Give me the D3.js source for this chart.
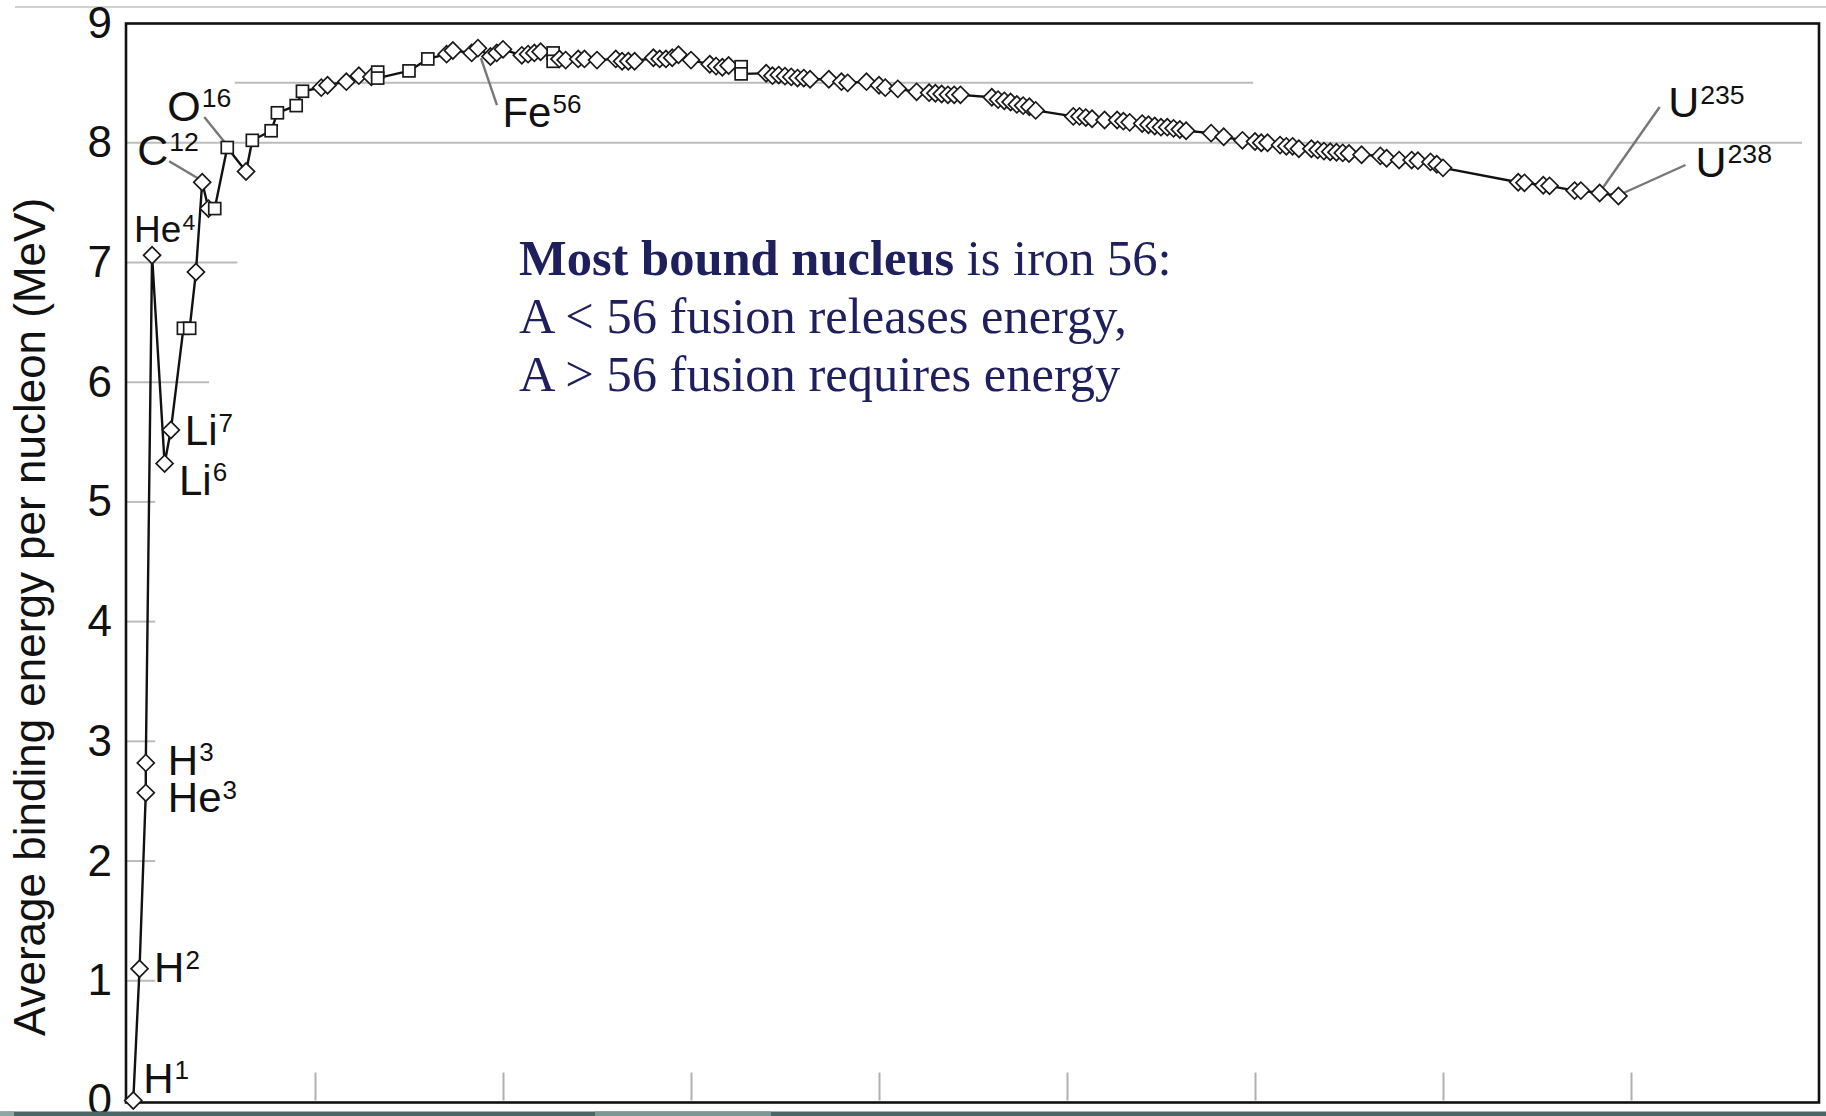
<!DOCTYPE html>
<html><head><meta charset="utf-8">
<script src="https://cdn.jsdelivr.net/npm/d3@7"></script>
<style>html,body{margin:0;padding:0;background:#fff;} svg{display:block}</style>
</head><body><svg id="chart" width="1826" height="1116"></svg>
<script>
// ---------------- DATA ----------------
const massNumber = [1,2,3,3,4,6,7,9,10,11,12,13,14,16,19,20,23,24,27,28,31,32,35,37,39,40,40,45,48,51,52,55,56,58,59,60,63,64,65,66,68,68,69,70,72,73,75,78,79,80,81,84,85,86,87,88,90,93,94,95,96,98,98,102,103,104,105,106,107,108,109,112,114,115,118,120,121,123,126,128,129,130,131,132,133,138,139,140,141,142,143,144,145,151,152,153,154,156,158,159,160,162,163,164,165,166,167,168,169,173,175,178,180,181,182,184,185,186,187,189,190,191,192,193,194,195,197,200,201,203,205,206,208,209,210,222,223,226,227,231,232,235,238];
const bindingEnergy = [0,1.10,2.57,2.82,7.06,5.32,5.60,6.45,6.45,6.92,7.67,7.45,7.45,7.96,7.76,8.02,8.10,8.25,8.31,8.43,8.46,8.48,8.51,8.56,8.55,8.59,8.54,8.60,8.70,8.74,8.77,8.75,8.79,8.72,8.75,8.78,8.73,8.74,8.75,8.76,8.75,8.68,8.70,8.69,8.70,8.70,8.69,8.70,8.68,8.68,8.68,8.71,8.70,8.70,8.71,8.735,8.69,8.655,8.64,8.63,8.645,8.635,8.575,8.58,8.56,8.565,8.556,8.55,8.54,8.54,8.53,8.53,8.51,8.50,8.51,8.48,8.46,8.45,8.425,8.418,8.413,8.407,8.40,8.40,8.40,8.38,8.36,8.35,8.34,8.32,8.31,8.30,8.27,8.22,8.22,8.21,8.20,8.19,8.19,8.18,8.17,8.16,8.15,8.14,8.13,8.13,8.12,8.11,8.10,8.08,8.05,8.02,8.01,8.00,8.00,7.98,7.97,7.97,7.95,7.95,7.94,7.93,7.925,7.92,7.915,7.91,7.90,7.89,7.87,7.855,7.855,7.85,7.84,7.82,7.79,7.67,7.665,7.645,7.64,7.60,7.60,7.58,7.555];
// indices of points drawn as squares (others are diamonds)
const squareIdx = [7,8,12,13,15,16,17,18,19,25,26,27,28,40,41,61,62];

const yTicks = [0,1,2,3,4,5,6,7,8,9];
const xTicks = [30,60,90,120,150,180,210,240];
const yTitle = "Average binding energy per nucleon (MeV)";

// labelled nuclides: index into the series, symbol, superscript
const labelPoint = [0,1,2,3,4,5,6,10,13,32,141,142];
const labelSym   = ["H","H","He","H","He","Li","Li","C","O","Fe","U","U"];
const labelSup   = ["1","2","3","3","4","6","7","12","16","56","235","238"];

// partial horizontal grid lines [energy, fromA, toA]
const gridY = [[1,0,4.5],[2,0,4.5],[3,0,4.5],[4,0,4.5],[5,0,4.5],[6,0,13.1],[7,0,17.6],[8,0,267.3],[8.5,17.2,179.7]];

const noteLines = [
  [["Most bound nucleus", true],[" is iron 56:", false]],
  [["A < 56 fusion releases energy,", false]],
  [["A > 56 fusion requires energy", false]]
];

// ---------------- LAYOUT ----------------
const svg = d3.select("#chart");
const W = 1826, H = 1116;
const x = d3.scaleLinear().domain([0,270]).range([127,1819]);
const y = d3.scaleLinear().domain([0,9]).range([1100.5,23]);
const sans = "'Liberation Sans', Arial, sans-serif";

svg.append("rect").attr("width",W).attr("height",H).attr("fill","#fff");
// top page line
svg.append("line").attr("x1",15).attr("x2",W).attr("y1",7).attr("y2",7).attr("stroke","#d2d2d2").attr("stroke-width",2);

// grid lines
svg.append("g").selectAll("line").data(gridY).join("line")
  .attr("x1",d=>x(d[1])).attr("x2",d=>x(d[2]))
  .attr("y1",d=>y(d[0])).attr("y2",d=>y(d[0]))
  .attr("stroke","#bcbcbc").attr("stroke-width",2);

// x ticks (inside, no labels)
const xAxis = svg.append("g").attr("transform",`translate(0,${y(0)})`)
  .call(d3.axisBottom(x).tickValues(xTicks).tickSize(-28).tickFormat(""));
xAxis.select(".domain").remove();
xAxis.selectAll("line").attr("stroke","#b0b0b0").attr("stroke-width",2);

// y axis labels
const yAxis = svg.append("g").attr("transform",`translate(${x(0)},0)`)
  .call(d3.axisLeft(y).tickValues(yTicks).tickSize(0).tickPadding(15).tickFormat(d3.format("d")));
yAxis.select(".domain").remove();
yAxis.selectAll("text").attr("font-family",sans).attr("font-size",44).attr("fill","#111");

// frame
svg.append("rect").attr("x",x(0)-1).attr("y",y(9)+0.5).attr("width",x(270)-x(0)+1).attr("height",y(0)-y(9)+1.5)
  .attr("fill","none").attr("stroke","#111").attr("stroke-width",2.6);

// y title
svg.append("text").attr("transform",`translate(45,617) rotate(-90)`)
  .attr("text-anchor","middle").attr("font-family",sans).attr("font-size",44).attr("fill","#111")
  .text(yTitle);

const pts = massNumber.map((a,i)=>({a, e: bindingEnergy[i], sq: squareIdx.includes(i)}));

// leader lines for some labels: [label index, dx1, dy1, dx2, dy2] relative to the point
const leaders = [[7,-1,-2,-33,-21],[8,-2,-4.5,-23,-30.5],[9,3,10,19,57],[10,3,-5,60,-86],[11,5,-3,67,-31]];
svg.append("g").selectAll("line").data(leaders).join("line")
  .attr("x1",d=>x(pts[labelPoint[d[0]]].a)+d[1]).attr("y1",d=>y(pts[labelPoint[d[0]]].e)+d[2])
  .attr("x2",d=>x(pts[labelPoint[d[0]]].a)+d[3]).attr("y2",d=>y(pts[labelPoint[d[0]]].e)+d[4])
  .attr("stroke","#777").attr("stroke-width",2.4);

// series line
svg.append("path").datum(pts)
  .attr("d", d3.line().x(d=>x(d.a)).y(d=>y(d.e)))
  .attr("fill","none").attr("stroke","#111").attr("stroke-width",2.4).attr("stroke-linejoin","round");

// markers
const s = 12;
svg.append("g").selectAll("rect").data(pts).join("rect")
  .attr("x",-s/2).attr("y",-s/2).attr("width",s).attr("height",s)
  .attr("transform",d=>`translate(${x(d.a)},${y(d.e)})` + (d.sq ? "" : " rotate(45)"))
  .attr("fill","#fff").attr("stroke","#1a1a1a").attr("stroke-width",1.7);

// labels: [dx, dy, font-size]
const labelPos = [[10,-8,42],[14.5,13.5,42],[22,19.5,42],[22,12,42],[-18,-13.5,37],[14.4,31,42],[14,15,42],[-65,-17,43],[-60,-26.5,43],[24.5,78.6,42],[68.5,-75.7,43],[77,-19.3,43]];
labelPoint.forEach((pi,i)=>{
  const p = pts[pi], lp = labelPos[i];
  const t = svg.append("text").attr("x",x(p.a)+lp[0]).attr("y",y(p.e)+lp[1])
    .attr("font-family",sans).attr("font-size",lp[2]).attr("fill","#111");
  t.append("tspan").text(labelSym[i]);
  t.append("tspan").attr("font-size",lp[2]*0.62).attr("dy",-lp[2]*0.32).attr("dx",1).text(labelSup[i]);
});

// note text
const serif = "'Liberation Serif', 'DejaVu Serif', serif";
const note = svg.append("g").attr("fill","#1f1f5d").attr("font-family",serif);
const noteTexts = noteLines.map((line,i)=>{
  const t = note.append("text").attr("x",519).attr("y",275+58*i).attr("font-size",48);
  line.forEach(seg=>t.append("tspan").attr("font-weight",seg[1]?"bold":"normal").text(seg[0]));
  return t;
});
// fit the note to the width seen in the picture
const w1 = noteTexts[0].node().getComputedTextLength();
const w2 = noteTexts[1].node().getComputedTextLength();
const fs = 48*((604/w2)+(657/w1))/2;
noteTexts.forEach(t=>t.attr("font-size",fs));

// bottom page strip
svg.append("rect").attr("x",0).attr("y",1111.5).attr("width",W).attr("height",4.5).attr("fill","#4a6666");
svg.append("rect").attr("x",0).attr("y",1111.5).attr("width",14).attr("height",4.5).attr("fill","#8fa6a6");
svg.append("rect").attr("x",595).attr("y",1111.5).attr("width",176).attr("height",4.5).attr("fill","#7d9696");
</script></body></html>
